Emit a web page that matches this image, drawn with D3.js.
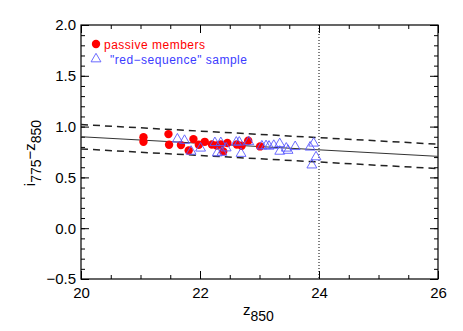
<!DOCTYPE html>
<html>
<head>
<meta charset="utf-8">
<script src="https://cdn.jsdelivr.net/npm/d3@7"></script>
<style>
  body { margin: 0; background: #fff; }
  text { font-family: "Liberation Sans", Arial, sans-serif; }
</style>
</head>
<body>
<div id="chart"></div>
<script>
// passive members (red filled circles)
var passiveZ = [21.05, 21.05, 21.47, 21.48, 21.68, 21.81, 21.89, 21.98, 22.08, 22.20, 22.28, 22.35, 22.39, 22.46, 22.62, 22.70, 22.81, 23.01];
var passiveC = [0.896, 0.850, 0.926, 0.821, 0.818, 0.765, 0.877, 0.821, 0.850, 0.824, 0.814, 0.824, 0.756, 0.838, 0.824, 0.811, 0.860, 0.805];

// "red-sequence" sample (blue open triangles)
var redseqZ = [21.62, 21.74, 21.85, 22.01, 22.25, 22.29, 22.35, 22.37, 22.44, 22.61, 22.66, 22.69, 22.82, 23.04, 23.11, 23.16, 23.24, 23.34, 23.34, 23.45, 23.48, 23.60, 23.85, 23.91, 23.95, 23.88];
var redseqC = [0.877, 0.863, 0.756, 0.787, 0.841, 0.740, 0.841, 0.746, 0.789, 0.846, 0.846, 0.735, 0.850, 0.808, 0.811, 0.806, 0.814, 0.831, 0.756, 0.787, 0.765, 0.802, 0.797, 0.836, 0.701, 0.621];

// colour-magnitude relation and its scatter band
var fitZ = [20, 26];
var fitC = [0.90, 0.707];
var bandOffset = 0.12;
var magLimit = 24;

var xTicks = [20, 22, 24, 26];
var yTicks = [-0.5, 0.0, 0.5, 1.0, 1.5, 2.0];

var W = 463, H = 331;
var m = {left: 81, right: 25, top: 25, bottom: 52};

var svg = d3.select("#chart").append("svg")
  .attr("width", W).attr("height", H);

var x = d3.scaleLinear().domain([20, 26]).range([m.left, W - m.right]);
var y = d3.scaleLinear().domain([-0.5, 2.0]).range([H - m.bottom, m.top]);

var ink = "#000";

// frame with inward ticks on all four sides
function tickAxis(axisFn, scale, major, minorStep, fmt, transform, showLabels) {
  var dom = scale.domain();
  var minor = d3.range(dom[0], dom[1] + 1e-9, minorStep);
  var g = svg.append("g").attr("transform", transform);
  g.call(axisFn(scale).tickValues(minor).tickSize(-4).tickFormat(""))
   .call(function(s) { s.select(".domain").remove(); });
  var g2 = svg.append("g").attr("transform", transform);
  g2.call(axisFn(scale).tickValues(major).tickSize(-8).tickPadding(5)
      .tickFormat(showLabels ? fmt : ""))
    .call(function(s) { s.select(".domain").remove(); });
  g2.selectAll("text").attr("font-size", 15).attr("fill", ink)
    .style("font-family", "'Liberation Sans', Arial, sans-serif");
  svg.selectAll(".tick line").attr("stroke", ink).attr("stroke-width", 1);
  return g2;
}

var bx = tickAxis(d3.axisBottom, x, xTicks, 0.5, d3.format("d"), "translate(0," + (H - m.bottom) + ")", true);
bx.selectAll("text").attr("y", 8);
tickAxis(d3.axisTop, x, xTicks, 0.5, d3.format("d"), "translate(0," + m.top + ")", false);
var ly = tickAxis(d3.axisLeft, y, yTicks, 0.1, d3.format(".1f"), "translate(" + m.left + ",0)", true);
ly.selectAll("text").attr("x", -5)
  .text(function(d) { return d3.format(".1f")(d).replace("-", "\u2212"); });
tickAxis(d3.axisRight, y, yTicks, 0.1, d3.format(".1f"), "translate(" + (W - m.right) + ",0)", false);

svg.append("rect")
  .attr("x", m.left).attr("y", m.top)
  .attr("width", W - m.left - m.right).attr("height", H - m.top - m.bottom)
  .attr("fill", "none").attr("stroke", ink).attr("stroke-width", 1.2);

// relation lines
var line = d3.line().x(function(d) { return x(d[0]); }).y(function(d) { return y(d[1]); });
var fit = fitZ.map(function(z, i) { return [z, fitC[i]]; });
svg.append("path").attr("d", line(fit))
  .attr("stroke", "#333").attr("stroke-width", 1).attr("fill", "none");
[bandOffset, -bandOffset].forEach(function(o) {
  svg.append("path").attr("d", line(fit.map(function(d) { return [d[0], d[1] + o]; })))
    .attr("stroke", "#222").attr("stroke-width", 1.5).attr("fill", "none")
    .attr("stroke-dasharray", "7,5");
});

svg.append("line")
  .attr("x1", x(magLimit)).attr("x2", x(magLimit))
  .attr("y1", y(2.0)).attr("y2", y(-0.5))
  .attr("stroke", ink).attr("stroke-width", 1).attr("stroke-dasharray", "1,2");

// points
var red = "#ff0000", blue = "#5a5aff";
svg.append("g").selectAll("circle")
  .data(passiveZ.map(function(z, i) { return [z, passiveC[i]]; }))
  .enter().append("circle")
  .attr("cx", function(d) { return x(d[0]); })
  .attr("cy", function(d) { return y(d[1]); })
  .attr("r", 4.2).attr("fill", red);

var tri = d3.symbol().type(d3.symbolTriangle).size(42);
svg.append("g").selectAll("path")
  .data(redseqZ.map(function(z, i) { return [z, redseqC[i]]; }))
  .enter().append("path")
  .attr("d", tri)
  .attr("transform", function(d) { return "translate(" + x(d[0]) + "," + y(d[1]) + ")"; })
  .attr("fill", "none").attr("stroke", blue).attr("stroke-width", 0.9);

// legend
svg.append("circle").attr("cx", 96).attr("cy", 44).attr("r", 4.2).attr("fill", red);
svg.append("text").attr("x", 104).attr("y", 48.5).attr("font-size", 12)
  .attr("fill", red).attr("letter-spacing", 0.5).text("passive members");
svg.append("path").attr("d", tri).attr("transform", "translate(96,59)")
  .attr("fill", "none").attr("stroke", blue).attr("stroke-width", 0.9);
svg.append("text").attr("x", 110).attr("y", 63.5).attr("font-size", 12)
  .attr("fill", "#3c3cff").attr("letter-spacing", 0.5)
  .text("\"red\u2212sequence\" sample");

// axis titles
var xt = svg.append("text").attr("x", 243).attr("y", 315).attr("font-size", 15).attr("fill", ink);
xt.append("tspan").text("z");
xt.append("tspan").attr("dy", 6).attr("font-size", 14).text("850");

var yt = svg.append("text")
  .attr("transform", "translate(35,153) rotate(-90)")
  .attr("text-anchor", "middle").attr("font-size", 15).attr("fill", ink);
yt.append("tspan").text("i");
yt.append("tspan").attr("dy", 6).attr("font-size", 14).text("775");
yt.append("tspan").attr("dy", -6).text("\u2212z");
yt.append("tspan").attr("dy", 6).attr("font-size", 14).text("850");
</script>
</body>
</html>
